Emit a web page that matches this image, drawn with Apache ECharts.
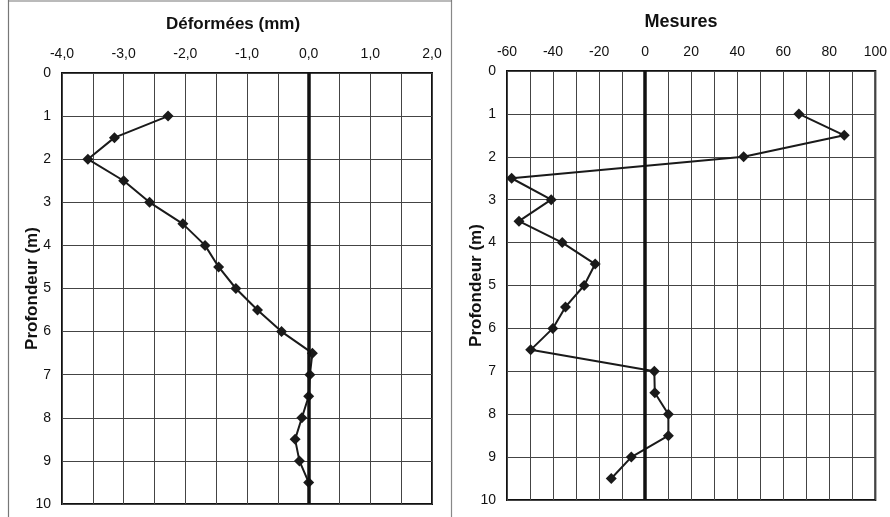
<!DOCTYPE html>
<html>
<head>
<meta charset="utf-8">
<script src="https://cdn.jsdelivr.net/npm/echarts@6/dist/echarts.min.js"></script>
<style>html,body{margin:0;padding:0;background:#fff;}#c{width:890px;height:517px;}</style>
</head>
<body>
<div id="c"></div>
<script>
// Depths (m)
const depths = [1, 1.5, 2, 2.5, 3, 3.5, 4, 4.5, 5, 5.5, 6, 6.5, 7, 7.5, 8, 8.5, 9, 9.5];
// Left panel: Déformées (mm)
const deformees = [-2.28, -3.15, -3.58, -3.0, -2.58, -2.04, -1.68, -1.46, -1.18, -0.83, -0.44, 0.06, 0.02, 0.0, -0.11, -0.22, -0.15, 0.0];
// Right panel: Mesures
const mesures = [66.8, 86.5, 42.8, -58, -40.8, -54.8, -36, -21.7, -26.5, -34.6, -40.1, -49.7, 4, 4.2, 10.1, 10.1, -6, -14.7];

const leftTitle = 'Déformées (mm)';
const rightTitle = 'Mesures';
const yName = 'Profondeur (m)';

const FONT = '"Liberation Sans", Arial, sans-serif';
const chart = echarts.init(document.getElementById('c'), null, {renderer: 'canvas'});

function pairs(xs) { return xs.map((v, i) => [v, depths[i]]); }

function xAxisCfg(idx, min, max, interval, labelStep, fmt) {
  return {
    gridIndex: idx, type: 'value', position: 'top', min: min, max: max, interval: interval,
    axisLine: {show: false}, axisTick: {show: false},
    axisLabel: {
      show: true, margin: 12, color: '#111', fontFamily: FONT, fontSize: 14,
      formatter: function (v) {
        const r = Math.round(v / labelStep);
        if (Math.abs(v / labelStep - r) > 1e-6) return '';
        return fmt(v);
      }
    },
    splitLine: {show: true, lineStyle: {color: '#444', width: 1}}
  };
}
function yAxisCfg(idx, gap) {
  return {
    gridIndex: idx, type: 'value', inverse: true, min: 0, max: 10, interval: 1,
    name: yName, nameLocation: 'middle', nameGap: gap, nameMoveOverlap: false,
    nameTextStyle: {fontFamily: FONT, fontSize: 17, fontWeight: 'bold', color: '#111'},
    axisLine: {show: false}, axisTick: {show: false},
    axisLabel: {margin: 11, color: '#111', fontFamily: FONT, fontSize: 14},
    splitLine: {show: true, lineStyle: {color: '#444', width: 1}}
  };
}
function series(idx, data) {
  return {
    type: 'line', xAxisIndex: idx, yAxisIndex: idx, data: pairs(data),
    symbol: 'diamond', symbolSize: 11, showSymbol: true,
    lineStyle: {color: '#1a1a1a', width: 2},
    itemStyle: {color: '#1a1a1a'},
    animation: false,
    markLine: {
      silent: true, symbol: 'none', label: {show: false},
      lineStyle: {color: '#111', width: 3.5, type: 'solid'},
      data: [{xAxis: 0}]
    }
  };
}

chart.setOption({
  backgroundColor: '#ffffff',
  animation: false,
  title: [
    {text: leftTitle, left: 228, top: 11, textAlign: 'center',
     textStyle: {fontFamily: FONT, fontSize: 17, fontWeight: 'bold', color: '#111'}},
    {text: rightTitle, left: 676, top: 8, textAlign: 'center',
     textStyle: {fontFamily: FONT, fontSize: 18, fontWeight: 'bold', color: '#111'}}
  ],
  grid: [
    {left: 62, top: 73, width: 370, height: 431, show: true, borderColor: '#111', borderWidth: 2, backgroundColor: 'transparent'},
    {left: 507, top: 71, width: 372, height: 429, show: true, borderColor: '#111', borderWidth: 2, backgroundColor: 'transparent'}
  ],
  xAxis: [
    xAxisCfg(0, -4, 2, 0.5, 1, v => v.toFixed(1).replace('.', ',')),
    xAxisCfg(1, -60, 100, 10, 20, v => String(v))
  ],
  yAxis: [yAxisCfg(0, 21), yAxisCfg(1, 22)],
  series: [series(0, deformees), series(1, mesures)],
  graphic: [
    {type: 'line', shape: {x1: 8.5, y1: 0, x2: 8.5, y2: 517}, style: {stroke: '#777', lineWidth: 1.2}},
    {type: 'line', shape: {x1: 451.5, y1: 0, x2: 451.5, y2: 517}, style: {stroke: '#888', lineWidth: 1.2}},
    {type: 'line', shape: {x1: 8, y1: 1, x2: 452, y2: 1}, style: {stroke: '#777', lineWidth: 1.2}}
  ]
});
</script>
</body>
</html>
